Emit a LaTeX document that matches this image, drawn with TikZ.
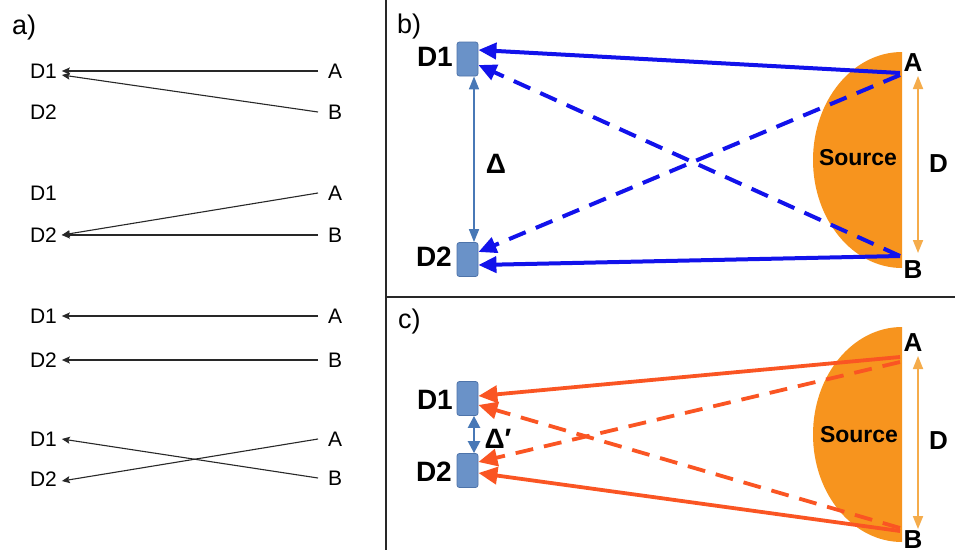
\documentclass[tikz,border=0pt]{standalone}
\usepackage{fontspec}
\setmainfont{Liberation Sans}
\usetikzlibrary{arrows.meta}
\definecolor{beamblue}{RGB}{18,18,235}
\definecolor{beamred}{RGB}{250,85,35}
\definecolor{srcorange}{RGB}{247,148,30}
\definecolor{dorange}{RGB}{245,172,75}
\definecolor{detfill}{RGB}{106,146,200}
\definecolor{detdraw}{RGB}{78,116,170}
\definecolor{deltablue}{RGB}{72,120,182}
\definecolor{linegray}{RGB}{40,40,40}
\tikzset{
  lab/.style={inner sep=0pt,font=\fontsize{21}{25}\selectfont},
  dlab/.style={lab,anchor=west,outer xsep=5pt},
  slab/.style={lab,anchor=west,outer xsep=10pt},
  thinarr/.style={draw=linegray,line width=1.1pt,-{Stealth[length=8pt,width=7pt,inset=1.5pt]}},
  panellab/.style={inner sep=0pt,anchor=base west,font=\fontsize{27}{30}\selectfont},
  blab/.style={inner sep=0pt,font=\fontsize{28}{32}\selectfont\bfseries},
  bigl/.style={inner sep=0pt,font=\fontsize{26}{30}\selectfont\bfseries},
  deltal/.style={inner sep=0pt,font=\fontsize{28}{32}\selectfont\bfseries},
  srclab/.style={inner sep=0pt,font=\fontsize{23}{27}\selectfont\bfseries},
  det/.style={rectangle,rounded corners=2.5pt,fill=detfill,draw=detdraw,line width=0.8pt,minimum width=21pt,minimum height=34pt,inner sep=0pt},
  bluearr/.style={draw=beamblue,line width=4pt,-{Triangle[length=18pt,width=16pt]}},
  redarr/.style={draw=beamred,line width=3.8pt,-{Triangle[length=19pt,width=17pt]}},
  dashpat/.style={dash pattern=on 18pt off 11pt},
  darr/.style={draw=dorange,line width=1.8pt,{Triangle[length=13pt,width=10pt]}-{Triangle[length=13pt,width=10pt]}},
  deltaarr/.style={draw=deltablue,line width=1.6pt,{Triangle[length=13pt,width=10pt]}-{Triangle[length=13pt,width=10pt]}},
  deltaarrs/.style={draw=deltablue,line width=2.4pt,{Triangle[length=12pt,width=12pt]}-{Triangle[length=12pt,width=12pt]}},
  divider/.style={draw=linegray,line width=1.6pt}
}
\begin{document}
\begin{tikzpicture}[x=1pt,y=-1pt]
\useasboundingbox (0,0) rectangle (955,554);
\fill[white] (0,0) rectangle (955,554);

% dividers
\coordinate (vtop) at (385.7,0);
\coordinate (vbot) at (385.7,550);
\coordinate (hleft) at (385.7,297);
\coordinate (hright) at (955,297);
\draw[divider] (vtop) -- (vbot);
\draw[divider] (hleft) -- (hright);

% ---------------- panel a ----------------
\node[panellab] (pa) at (12,34) {a)};
% group 1
\node[dlab] (g1D1) at (25,71) {D1};
\node[dlab] (g1D2) at (25,112) {D2};
\node[slab] (g1A) at (318,71) {A};
\node[slab] (g1B) at (318,112) {B};
\draw[thinarr] (g1A.west) -- (g1D1.east);
\draw[thinarr] (g1B.west) -- ([yshift=-4pt]g1D1.east);
% group 2
\node[dlab] (g2D1) at (25,193) {D1};
\node[dlab] (g2D2) at (25,235) {D2};
\node[slab] (g2A) at (318,193) {A};
\node[slab] (g2B) at (318,235) {B};
\draw[thinarr] (g2A.west) -- (g2D2.east);
\draw[thinarr] (g2B.west) -- (g2D2.east);
% group 3
\node[dlab] (g3D1) at (25,316) {D1};
\node[dlab] (g3D2) at (25,360) {D2};
\node[slab] (g3A) at (318,316) {A};
\node[slab] (g3B) at (318,360) {B};
\draw[thinarr] (g3A.west) -- (g3D1.east);
\draw[thinarr] (g3B.west) -- (g3D2.east);
% group 4
\node[dlab] (g4D1) at (25,439) {D1};
\node[dlab] (g4D2) at (25,479) {D2};
\node[slab] (g4A) at (318,439) {A};
\node[slab] (g4B) at (318,478) {B};
\draw[thinarr] (g4B.west) -- (g4D1.east);
\draw[thinarr] (g4A.west) -- ([yshift=-2pt]g4D2.east);

% ---------------- panel b ----------------
\node[panellab] (pb) at (397,33) {b)};
\fill[srcorange] (902,52) arc[start angle=90,end angle=270,x radius=89pt,y radius=108pt] -- cycle;
\node[srclab] (bsrc) at (858,158) {Source};
\node[det] (bD1) at (467.5,59) {};
\node[det] (bD2) at (467.5,259.5) {};
\node[blab,anchor=east] (bD1l) at (453,57) {D1};
\node[blab,anchor=east] (bD2l) at (452,257) {D2};
\node[bigl] (bA) at (913,62.5) {A};
\node[bigl] (bB) at (913,269.5) {B};
\node[bigl] (bD) at (938.5,163.5) {D};
\node[deltal] (bDelta) at (496,164) {Δ};
\coordinate (bDt) at (918,76);
\coordinate (bDb) at (918,253);
\draw[darr] (bDt) -- (bDb);
\draw[deltaarr] ([xshift=6.5pt]bD1.south) -- ([xshift=6.5pt]bD2.north);
\coordinate (bAs) at (900,73);
\coordinate (bAd) at (900,75);
\coordinate (bBd) at (900,256);
\coordinate (bBs) at (900,256);
\draw[bluearr] (bAs) -- ([yshift=9pt]bD1.east);
\draw[bluearr] (bBs) -- ([yshift=-5.5pt]bD2.east);
\draw[bluearr,dashpat] (bAd) -- ([yshift=7.5pt]bD2.east);
\draw[bluearr,dashpat] (bBd) -- ([yshift=-6pt]bD1.east);

% ---------------- panel c ----------------
\node[panellab] (pc) at (398,328) {c)};
\fill[srcorange] (902,327) arc[start angle=90,end angle=270,x radius=89pt,y radius=107.5pt] -- cycle;
\node[srclab] (csrc) at (859,434.5) {Source};
\node[det] (cD1) at (467.5,398.5) {};
\node[det] (cD2) at (467.5,470.5) {};
\node[blab,anchor=east] (cD1l) at (453,400) {D1};
\node[blab,anchor=east] (cD2l) at (452,472) {D2};
\node[bigl] (cA) at (913,342.5) {A};
\node[bigl] (cB) at (913,540) {B};
\node[bigl] (cD) at (938.5,441) {D};
\node[deltal] (cDelta) at (498,439) {Δ′};
\coordinate (cDt) at (918,356);
\coordinate (cDb) at (918,529);
\draw[darr] (cDt) -- (cDb);
\draw[deltaarrs] ([xshift=6.5pt]cD1.south) -- ([xshift=6.5pt]cD2.north);
\coordinate (cAs) at (900,357);
\coordinate (cAd) at (900,362);
\coordinate (cBd) at (900,528);
\coordinate (cBs) at (900,531);
\draw[redarr] (cAs) -- ([yshift=2.5pt]cD1.east);
\draw[redarr] (cBs) -- ([yshift=-2.5pt]cD2.east);
\draw[redarr,dashpat] (cAd) -- ([yshift=8.5pt]cD2.east);
\draw[redarr,dashpat] (cBd) -- ([yshift=-6.5pt]cD1.east);
\end{tikzpicture}
\end{document}
